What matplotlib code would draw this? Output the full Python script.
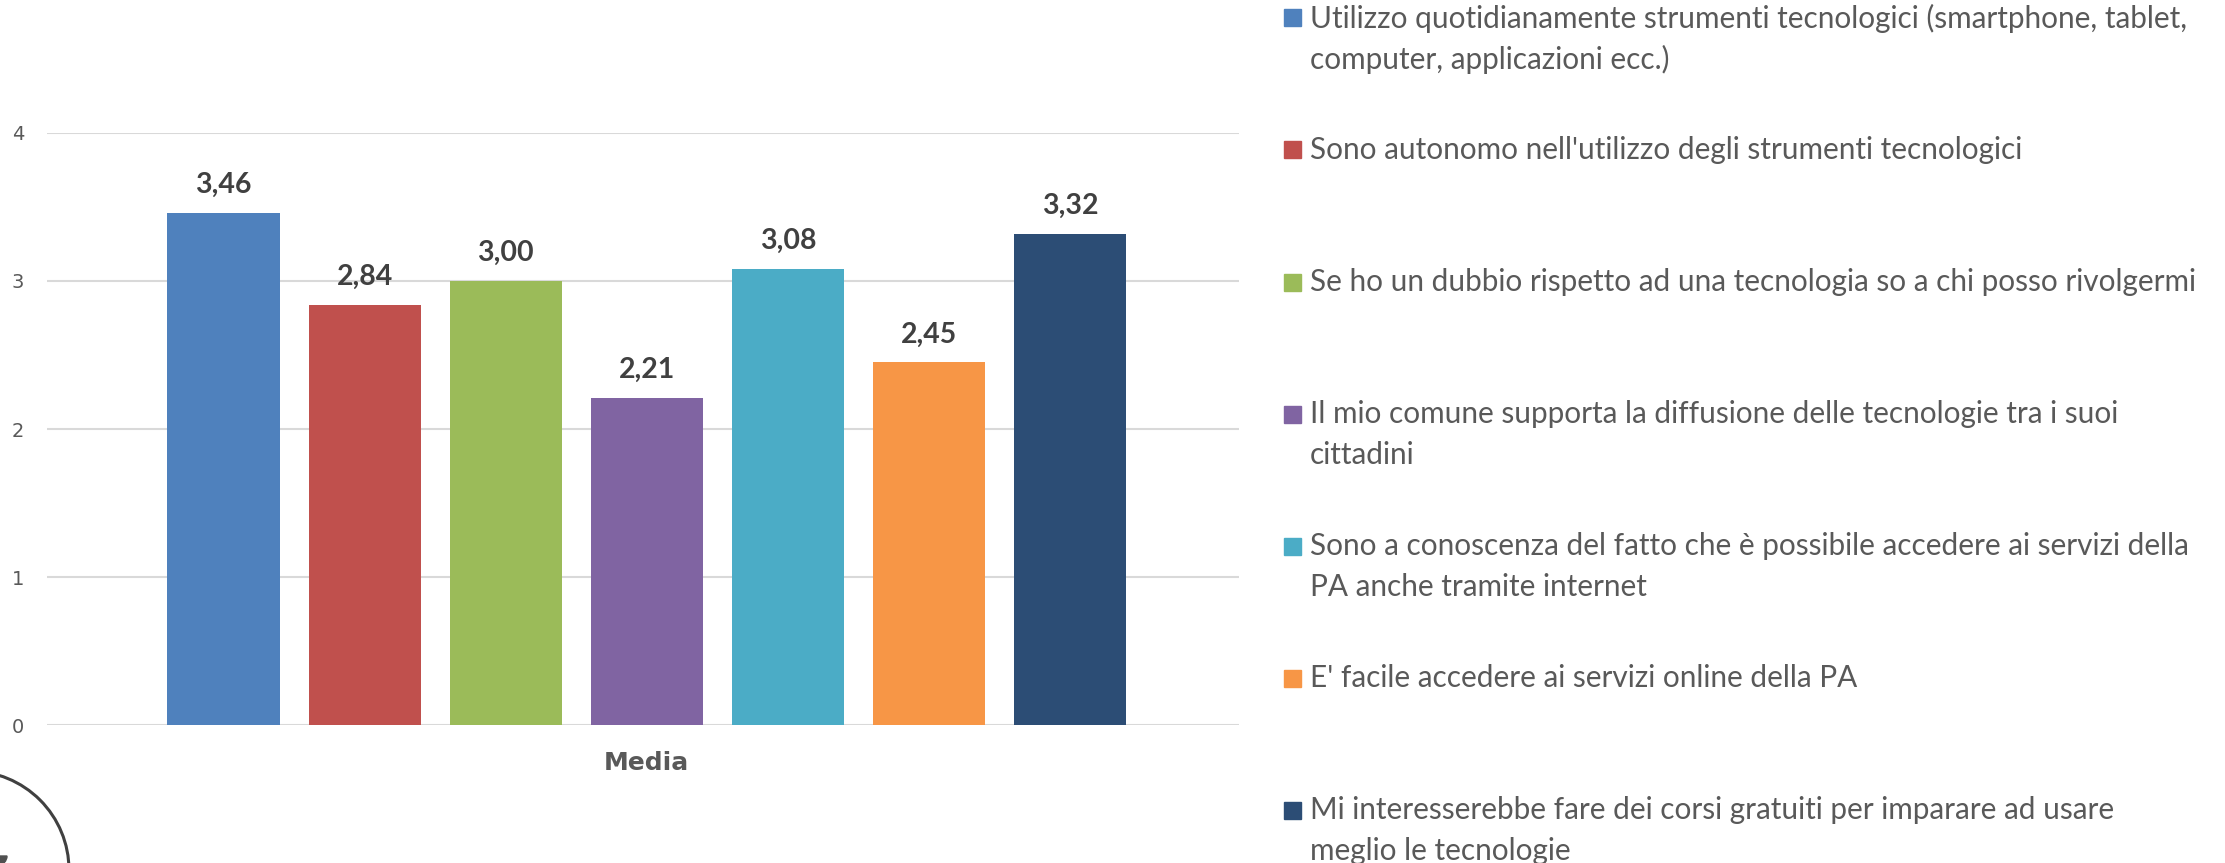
import matplotlib.pyplot as plt
from matplotlib.patches import Circle, Rectangle, Wedge

W, H = 2225, 863

# valori medi per ciascuna affermazione
valori = [3.46, 2.84, 3.00, 2.21, 3.08, 2.45, 3.32]
colori = ["#4F81BD", "#C0504D", "#9BBB59", "#8064A2", "#4BACC6", "#F79646", "#2C4D75"]
voci_legenda = [
    ["Utilizzo quotidianamente strumenti tecnologici (smartphone, tablet,",
     "computer, applicazioni ecc.)"],
    ["Sono autonomo nell'utilizzo degli strumenti tecnologici"],
    ["Se ho un dubbio rispetto ad una tecnologia so a chi posso rivolgermi"],
    ["Il mio comune supporta la diffusione delle tecnologie tra i suoi",
     "cittadini"],
    ["Sono a conoscenza del fatto che è possibile accedere ai servizi della",
     "PA anche tramite internet"],
    ["E' facile accedere ai servizi online della PA"],
    ["Mi interesserebbe fare dei corsi gratuiti per imparare ad usare",
     "meglio le tecnologie"],
]
gruppo = "Media"
yticks = [0, 1, 2, 3, 4]

fig = plt.figure(figsize=(W / 100, H / 100), dpi=100)

# livello di sfondo in coordinate pixel per legenda e logo
bg = fig.add_axes([0, 0, 1, 1], zorder=0)
bg.set_xlim(0, W)
bg.set_ylim(H, 0)
bg.axis("off")

ax = fig.add_axes([47 / W, 1 - 725 / H, (1239 - 47) / W, (725 - 133) / H], zorder=1)
ax.patch.set_alpha(0)
x = list(range(len(valori)))
bars = ax.bar(x, valori, width=0.794, color=colori, zorder=3)
for b, v in zip(bars, valori):
    ax.annotate(f"{v:.2f}".replace(".", ","),
                (b.get_x() + b.get_width() / 2, v),
                xytext=(0, 14.4), textcoords="offset points",
                ha="center", va="baseline", fontsize=20.5, fontweight="bold",
                color="#404040", family="Lato")

ax.set_xlim(-1.251, 7.197)
ax.set_ylim(0, 4)
ax.set_yticks(yticks)
ax.set_yticklabels([str(t) for t in yticks])
ax.set_xticks([(len(valori) - 1) / 2])
ax.set_xticklabels([gruppo], fontsize=18, fontweight="bold", color="#595959")
ax.tick_params(axis="y", length=0, pad=16.5, labelsize=14, labelcolor="#595959")
ax.tick_params(axis="x", length=0, pad=19)
ax.yaxis.grid(True, color="#D9D9D9", linewidth=1.5, zorder=0)
ax.set_axisbelow(True)
for s in ax.spines.values():
    s.set_visible(False)

# legenda
y0, passo, interlinea = 18, 132, 41
for i, (righe, col) in enumerate(zip(voci_legenda, colori)):
    yy = y0 + i * passo
    bg.add_patch(Rectangle((1284, yy - 8.5), 17, 17, color=col))
    for k, riga in enumerate(righe):
        bg.text(1310, yy + k * interlinea, riga, ha="left", va="center",
                fontsize=21.4, color="#595959", family="Lato")

# logo tagliato in basso a sinistra
bg.add_patch(Circle((-30, 870), 99, fill=False, edgecolor="#404040", linewidth=2.2))
bg.add_patch(Wedge((-2, 856), 9, 0, 180, color="#505050"))

fig.savefig("out.png", dpi=100)
